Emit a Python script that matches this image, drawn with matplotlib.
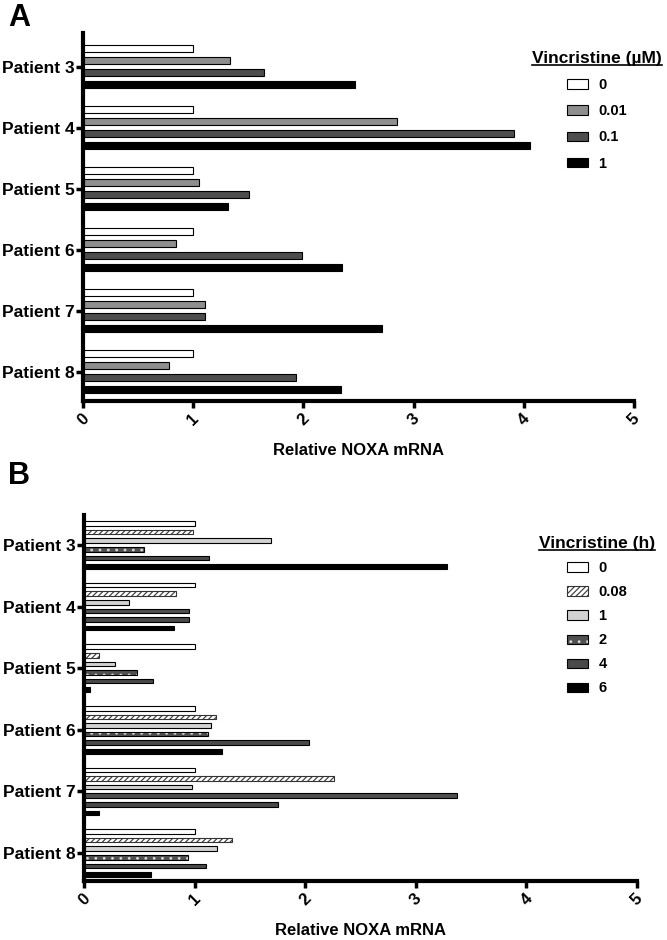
# NOXA mRNA after vincristine: dose (A) and time course (B)

import numpy as np
import matplotlib.pyplot as plt
import matplotlib.transforms as mtransforms
from matplotlib.patches import Patch
from matplotlib.lines import Line2D

plt.rcParams['font.family'] = ['Liberation Sans', 'DejaVu Sans']
plt.rcParams['font.weight'] = 'bold'
plt.rcParams['axes.labelweight'] = 'bold'
plt.rcParams['hatch.linewidth'] = 0.8

patients = ['Patient 3', 'Patient 4', 'Patient 5', 'Patient 6', 'Patient 7', 'Patient 8']
x_ticks = [0, 1, 2, 3, 4, 5]

# Panel A - dose (uM)
dose_labels = ['0', '0.01', '0.1', '1']
dose_0 = [1.0, 1.0, 1.0, 1.0, 1.0, 1.0]
dose_001 = [1.33, 2.85, 1.05, 0.84, 1.11, 0.78]
dose_01 = [1.64, 3.91, 1.51, 1.99, 1.11, 1.93]
dose_1 = [2.47, 4.06, 1.32, 2.35, 2.71, 2.34]

# Panel B - time (h)
time_labels = ['0', '0.08', '1', '2', '4', '6']
time_0 = [1.0, 1.0, 1.0, 1.0, 1.0, 1.0]
time_008 = [0.99, 0.83, 0.14, 1.19, 2.26, 1.34]
time_1 = [1.69, 0.41, 0.28, 1.15, 0.98, 1.20]
time_2 = [0.54, 0.95, 0.48, 1.12, 3.37, 0.94]
time_4 = [1.13, 0.95, 0.62, 2.03, 1.75, 1.10]
time_6 = [3.28, 0.81, 0.05, 1.25, 0.14, 0.61]

# bar looks: fill colour, hatch, hatch colour, light hatch on dark fill?
dose_styles = [('white', None, None, False), ('#8e8e8e', None, None, False),
               ('#4d4d4d', None, None, False), ('black', None, None, False)]
time_styles = [('white', None, None, False), ('white', '//////', '#333333', False),
               ('#d2d2d2', None, None, False), ('#505050', '..', '#d8d8d8', True),
               ('#4a4a4a', None, None, False), ('black', None, None, False)]


def draw_panel(ax, series, styles, step, height):
    n = len(series)
    base = np.arange(len(patients))
    handles = []
    for k, (vals, (fc, hatch, hc, light)) in enumerate(zip(series, styles)):
        y = base + (k - (n - 1) / 2) * step
        if light:
            # light hatch on dark fill: hatch layer then a black outline
            ax.barh(y, vals, height=height, color=fc, edgecolor=hc, hatch=hatch, linewidth=0)
            ax.barh(y, vals, height=height, fill=False, edgecolor='black', linewidth=0.8)
            handles.append((Patch(facecolor=fc, edgecolor=hc, hatch=hatch, linewidth=0),
                            Patch(fill=False, edgecolor='black', linewidth=0.8)))
        else:
            ax.barh(y, vals, height=height, color=fc, edgecolor=hc or 'black', hatch=hatch, linewidth=0.8)
            handles.append(Patch(facecolor=fc, edgecolor=hc or 'black', hatch=hatch, linewidth=0.8))

    ax.set_yticks(base)
    ax.set_yticklabels(patients, fontsize=12.5)
    ax.set_xticks(x_ticks)
    ax.set_xticklabels([str(t) for t in x_ticks], fontsize=12, rotation=45)
    shift = mtransforms.ScaledTranslation(-3 / 72, 0, ax.figure.dpi_scale_trans)
    for lab in ax.get_xticklabels():
        lab.set_transform(lab.get_transform() + shift)
    ax.set_xlim(0, 5)
    ax.set_xlabel('Relative NOXA mRNA', fontsize=12, labelpad=11)
    for side in ['top', 'right']:
        ax.spines[side].set_visible(False)
    for side in ['left', 'bottom']:
        ax.spines[side].set_linewidth(3)
    ax.tick_params(axis='both', length=5, width=2.5, pad=2)
    ax.tick_params(axis='y', pad=1)
    return handles


def add_legend(fig, handles, labels, title, x, y, spacing):
    leg = fig.legend(handles, labels, loc='upper center', bbox_to_anchor=(x, y),
                     title=title, frameon=False, fontsize=10.5,
                     title_fontproperties={'weight': 'bold', 'size': 12.5},
                     handlelength=1.45, handleheight=0.62, handletextpad=0.7,
                     labelspacing=spacing)
    return leg


fig = plt.figure(figsize=(6.67, 9.4), dpi=100)

ax_a = fig.add_axes([83 / 667, 1 - 401 / 940, 551 / 667, 368 / 940])
h_a = draw_panel(ax_a, [dose_0, dose_001, dose_01, dose_1], dose_styles, 0.197, 0.118)
ax_a.set_ylim(5.48, -0.55)

ax_b = fig.add_axes([84 / 667, 1 - 881 / 940, 553 / 667, 366 / 940])
h_b = draw_panel(ax_b, [time_0, time_008, time_1, time_2, time_4, time_6], time_styles, 0.14, 0.075)
ax_b.set_ylim(5.455, -0.487)

leg_a = add_legend(fig, h_a, dose_labels, 'Vincristine (µM)', 597 / 667, 1 - 38 / 940, 0.83)
leg_b = add_legend(fig, h_b, time_labels, 'Vincristine (h)', 597 / 667, 1 - 523 / 940, 0.69)

fig.text(0.012, 0.997, 'A', fontsize=22, va='top', ha='left')
fig.text(0.012, 1 - 461 / 940, 'B', fontsize=22, va='top', ha='left')

# underline the legend titles
fig.canvas.draw()
inv = fig.transFigure.inverted()
for leg in [leg_a, leg_b]:
    bb = leg.get_title().get_window_extent()
    (x0, y0), (x1, _) = inv.transform([[bb.x0, bb.y0 + 1], [bb.x1, bb.y0 + 1]])
    fig.add_artist(Line2D([x0, x1], [y0, y0], color='black', linewidth=1.2, transform=fig.transFigure))

fig.savefig('out.png', dpi=100)
